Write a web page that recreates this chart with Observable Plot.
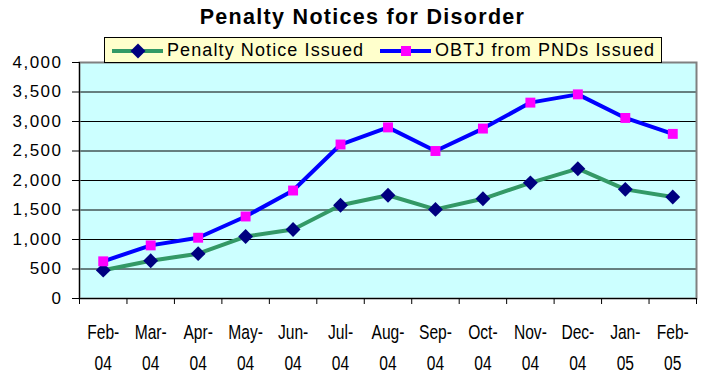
<!DOCTYPE html>
<html>
<head>
<meta charset="utf-8">
<script src="https://cdn.jsdelivr.net/npm/d3@7"></script>
<script src="https://cdn.jsdelivr.net/npm/@observablehq/plot@0.6"></script>
<style>
  html, body { margin: 0; padding: 0; background: #fff; }
  #wrap { position: relative; width: 705px; height: 379px; font-family: Arial, "Liberation Sans", sans-serif; }
  #title { position: absolute; left: 0; width: 725px; top: 5px; text-align: center; font-weight: bold; font-size: 21.5px; letter-spacing: 1.3px; color: #000; }
  #legend { position: absolute; left: 104px; top: 37px; width: 556px; height: 24px; background: #FFFFCC; border: 1px solid #000; z-index: 2; }
  .lg { position: absolute; top: 0; height: 24px; line-height: 25px; font-size: 18px; letter-spacing: 1.1px; color: #000; white-space: nowrap; }
  .sw { position: absolute; top: 0; }
  #chart { position: absolute; left: 0; top: 0; }
</style>
</head>
<body>
<div id="wrap">
  <div id="chart"></div>
  <div id="title">Penalty Notices for Disorder</div>
  <div id="legend"></div>
</div>
<script>
const months = ["Feb-","Mar-","Apr-","May-","Jun-","Jul-","Aug-","Sep-","Oct-","Nov-","Dec-","Jan-","Feb-"];
const years  = ["04","04","04","04","04","04","04","04","04","04","04","05","05"];
const penaltyNotices = [480, 640, 760, 1050, 1170, 1580, 1750, 1510, 1690, 1960, 2200, 1850, 1720];
const obtjFromPNDs   = [630, 900, 1030, 1390, 1830, 2610, 2900, 2500, 2880, 3320, 3460, 3060, 2790];
const yTicks = [0, 500, 1000, 1500, 2000, 2500, 3000, 3500, 4000];
const seriesNames = ["Penalty Notice Issued", "OBTJ from PNDs Issued"];

const data = months.map((m, i) => ({i, m, yr: years[i], penalty: penaltyNotices[i], obtj: obtjFromPNDs[i]}));
const boundaries = d3.range(months.length + 1).map(k => k - 0.5);
const labelFont = "'Liberation Sans', Arial, sans-serif";

const chart = Plot.plot({
  width: 705,
  height: 379,
  marginTop: 62,
  marginLeft: 79,
  marginRight: 9,
  marginBottom: 81,
  style: {background: "transparent", fontFamily: "Arial, 'Liberation Sans', sans-serif", fontSize: "17px", color: "#000"},
  x: {type: "linear", domain: [-0.5, months.length - 0.5]},
  y: {domain: [0, 4000]},
  marks: [
    Plot.frame({fill: "#CCFFFF", stroke: "none"}),
    Plot.ruleY(yTicks.filter(d => d > 0 && d < 4000), {stroke: "#000", strokeWidth: 1}),
    Plot.frame({stroke: "#808080", strokeWidth: 2}),
    Plot.ruleX([-0.5], {stroke: "#000", strokeWidth: 1}),
    Plot.ruleY([0], {stroke: "#000", strokeWidth: 1}),
    Plot.axisY({ticks: yTicks, tickSize: 7, tickPadding: 10, tickFormat: d3.format(","), label: null, fontSize: 17}),
    Plot.axisX({ticks: boundaries, tickSize: 6, tickFormat: () => "", label: null}),
    Plot.text(data, {x: "i", text: "m", frameAnchor: "bottom", dy: 34, lineAnchor: "middle", fontSize: 19.5, fontFamily: labelFont}),
    Plot.text(data, {x: "i", text: "yr", frameAnchor: "bottom", dy: 65, lineAnchor: "middle", fontSize: 19.5, fontFamily: labelFont}),
    Plot.line(data, {x: "i", y: "penalty", stroke: "#339966", strokeWidth: 4}),
    Plot.dot(data, {x: "i", y: "penalty", symbol: "diamond2", r: 6.7, fill: "#000080", stroke: "none"}),
    Plot.line(data, {x: "i", y: "obtj", stroke: "#0000FF", strokeWidth: 4}),
    Plot.dot(data, {x: "i", y: "obtj", symbol: "square", r: 5.6, fill: "#FF00FF", stroke: "none"})
  ]
});
d3.select(chart).selectAll('g[aria-label="y-axis tick label"]').attr("letter-spacing", "1.5");
// condensed look for the month labels
d3.select(chart).selectAll('g[aria-label="text"] text').each(function() {
  const t = this.getAttribute("transform") || "";
  this.setAttribute("transform", t + " scale(0.8,1)");
});
document.getElementById("chart").appendChild(chart);

// legend
const legend = d3.select("#legend");
function swatch(left, color, sym, markColor, size) {
  const s = legend.append("svg").attr("class", "sw").style("left", left + "px").attr("width", 52).attr("height", 24);
  s.append("line").attr("x1", 0).attr("x2", 51).attr("y1", 13).attr("y2", 13).attr("stroke", color).attr("stroke-width", 4);
  s.append("path").attr("transform", "translate(26,13)").attr("d", d3.symbol(sym, size)()).attr("fill", markColor);
}
swatch(7, "#339966", d3.symbolDiamond2, "#000080", 143);
legend.append("span").attr("class", "lg").style("left", "62px").text(seriesNames[0]);
swatch(275, "#0000FF", d3.symbolSquare, "#FF00FF", 100);
legend.append("span").attr("class", "lg").style("left", "330px").text(seriesNames[1]);
</script>
</body>
</html>
